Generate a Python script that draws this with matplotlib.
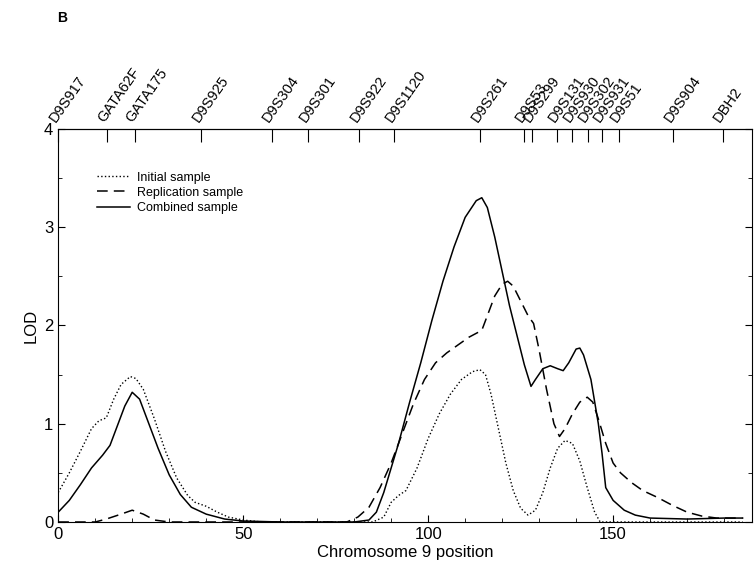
import numpy as np
import matplotlib
matplotlib.use('Agg')
import matplotlib.pyplot as plt
from matplotlib.ticker import MultipleLocator

plt.rcParams['font.family'] = ['Liberation Sans', 'DejaVu Sans']

# marker positions along chromosome 9 (top axis)
markers = ['D9S917', 'GATA62F', 'GATA175', 'D9S925', 'D9S304', 'D9S301', 'D9S922',
           'D9S1120', 'D9S261', 'D9S53', 'D9S299', 'D9S131', 'D9S930', 'D9S302',
           'D9S931', 'D9S51', 'D9S904', 'DBH2']
marker_pos = [0, 13.2, 20.8, 38.7, 57.7, 67.5, 81.4, 90.8, 114.1, 125.9, 128.0,
              134.8, 139.0, 143.1, 147.1, 151.7, 166.3, 179.6]

# initial sample (dotted)
init_x = [0, 3, 6, 9, 11, 13, 15, 17, 19.5, 21, 23, 26, 29, 32, 35, 37, 40, 43, 46, 50, 55,
          85, 88, 90, 92, 94, 97, 100, 103, 106, 109, 112, 114, 115.5, 117, 119, 121, 123,
          125, 127, 129, 131, 133, 135, 137, 139, 141, 143, 145, 146.5, 185]
init_y = [0.3, 0.5, 0.72, 0.95, 1.03, 1.06, 1.25, 1.40, 1.48, 1.46, 1.35, 1.05, 0.72, 0.45,
          0.27, 0.2, 0.16, 0.1, 0.05, 0.02, 0.0,
          0.0, 0.05, 0.2, 0.27, 0.32, 0.55, 0.85, 1.1, 1.3, 1.45, 1.53, 1.55, 1.5, 1.3, 0.95,
          0.6, 0.32, 0.14, 0.07, 0.12, 0.3, 0.55, 0.75, 0.83, 0.8, 0.62, 0.35, 0.1, 0.0, 0.0]

# replication sample (dashed)
rep_x = [0, 10, 13, 17, 20, 23, 26, 30, 78, 81, 84, 87, 90, 93, 96, 99, 102, 105, 108, 111,
         113, 114.5, 116, 118, 120, 121.5, 123, 125, 127, 128.5, 130, 132, 134, 135.5, 137,
         139, 141, 143, 144.5, 146, 148, 150, 152, 155, 158, 162, 166, 170, 174, 178, 185]
rep_y = [0.0, 0.0, 0.03, 0.08, 0.12, 0.08, 0.02, 0.0, 0.0, 0.05, 0.15, 0.35, 0.6, 0.9, 1.2,
         1.45, 1.62, 1.72, 1.8, 1.88, 1.92, 1.95, 2.1, 2.3, 2.42, 2.45, 2.4, 2.25, 2.1, 2.02,
         1.75, 1.35, 1.0, 0.87, 0.95, 1.1, 1.22, 1.27, 1.22, 1.05, 0.8, 0.6, 0.5, 0.4, 0.32,
         0.25, 0.17, 0.1, 0.06, 0.04, 0.04]

# combined sample (solid)
comb_x = [0, 3, 6, 9, 12, 14, 16, 18, 20, 22, 24, 27, 30, 33, 36, 40, 45, 50, 60, 80, 84,
          86, 88, 90, 92, 95, 98, 101, 104, 107, 110, 113, 114.5, 116, 118, 120, 122, 124,
          126, 127.8, 129, 131, 133, 135, 136.5, 138, 140, 141, 142, 144, 146, 147, 148,
          150, 153, 156, 160, 170, 180, 185]
comb_y = [0.1, 0.22, 0.38, 0.55, 0.68, 0.78, 0.98, 1.18, 1.32, 1.25, 1.05, 0.75, 0.48, 0.28,
          0.15, 0.08, 0.03, 0.01, 0.0, 0.0, 0.02, 0.1, 0.3, 0.55, 0.8, 1.22, 1.62, 2.05, 2.45,
          2.8, 3.1, 3.27, 3.30, 3.2, 2.9, 2.55, 2.2, 1.9, 1.6, 1.38, 1.45, 1.56, 1.59,
          1.56, 1.54, 1.62, 1.76, 1.77, 1.7, 1.45, 1.0, 0.7, 0.35, 0.22, 0.12, 0.07, 0.04,
          0.03, 0.04, 0.04]

fig = plt.figure(figsize=(7.56, 5.68), dpi=100)
ax = fig.add_axes([0.077, 0.081, 0.918, 0.692])

ax.plot(init_x, init_y, color='black', linestyle=':', linewidth=1.0, label='Initial sample')
ax.plot(rep_x, rep_y, color='black', linestyle=(0, (7, 4)), linewidth=1.1, label='Replication sample')
ax.plot(comb_x, comb_y, color='black', linestyle='-', linewidth=1.1, label='Combined sample')

ax.set_xlim(0, 187.6)
ax.set_ylim(0, 4)
ax.set_xticks([0, 50, 100, 150])
ax.xaxis.set_minor_locator(MultipleLocator(10))
ax.set_yticks([0, 1, 2, 3, 4])
ax.yaxis.set_minor_locator(MultipleLocator(0.5))
ax.tick_params(axis='both', which='both', direction='in', labelsize=12)
ax.tick_params(axis='x', which='both', bottom=True, top=False)
ax.tick_params(axis='y', which='both', left=True, right=True)
ax.tick_params(which='major', length=5)
ax.tick_params(which='minor', length=3)
ax.set_xlabel('Chromosome 9 position', fontsize=12, labelpad=2)
ax.set_ylabel('LOD', fontsize=12)

# marker names on top
top = ax.secondary_xaxis('top')
top.set_xticks(marker_pos)
top.set_xticklabels(markers, rotation=55, ha='left', va='bottom',
                    rotation_mode='anchor', fontsize=10.5,
                    family=['Liberation Sans Narrow', 'Liberation Sans'])
top.tick_params(direction='in', length=9, pad=3)

ax.legend(loc='upper left', bbox_to_anchor=(0.04, 0.92), frameon=False, fontsize=9,
          handlelength=2.6, labelspacing=0.25, handletextpad=0.6)

fig.text(0.075, 0.968, 'B', fontsize=10, fontweight='bold', ha='left', va='center')

fig.savefig('out.png', dpi=100)
